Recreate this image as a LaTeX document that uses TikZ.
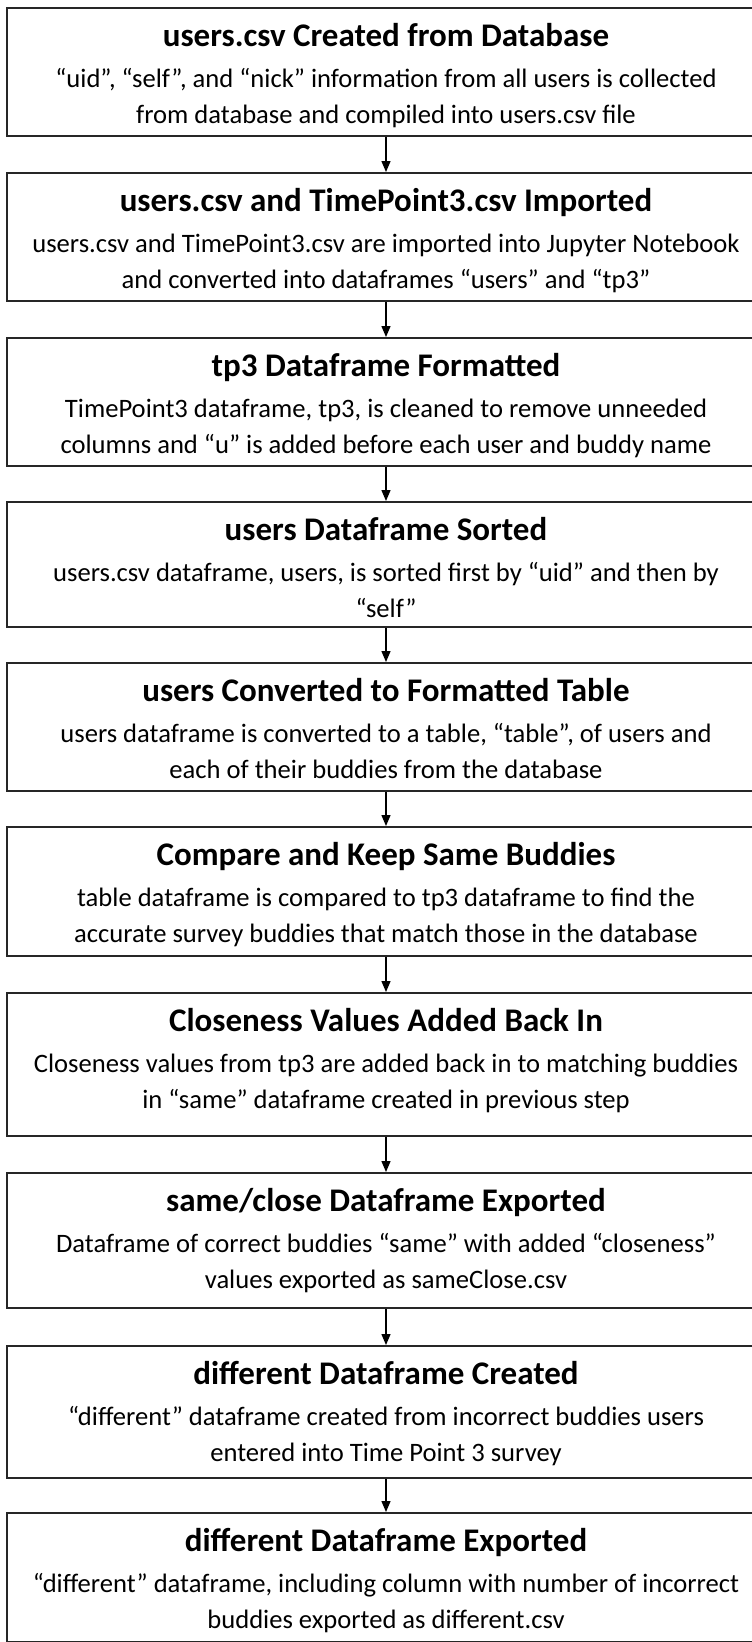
\documentclass[tikz,border=0pt]{standalone}
\usepackage{fontspec}
\setmainfont{Carlito}
\usetikzlibrary{arrows.meta}

\tikzset{
  stepbox/.style={draw=black!85, line width=2pt, minimum width=758pt, inner sep=0pt, anchor=north},
  ttl/.style={font=\fontsize{33}{36}\selectfont\bfseries, inner sep=0pt, anchor=base},
  bdy/.style={font=\fontsize{26.6}{29}\selectfont, align=center, inner sep=0pt, anchor=north},
  flow/.style={line width=1.4pt, -{Triangle[length=11pt, width=9pt]}}
}

% one stage of the pipeline: name, top edge, height, heading, description
\newcommand\stage[5]{%
  \node[stepbox, minimum height=#3pt] (#1) at (386,#2) {};
  \node[ttl] (#1t) at (386,#2+39) {#4};
  \node[bdy] (#1b) at (386,#2+58) {\rule{0pt}{22pt}#5};
}

\begin{document}
\begin{tikzpicture}[x=1pt, y=-1pt]
\useasboundingbox (0,0) rectangle (752,1642);
\clip (0,0) rectangle (752,1642);
\fill[white] (0,0) rectangle (752,1642);

\stage{s1}{7}{128}{users.csv Created from Database}
  {“uid”, “self”, and “nick” information from all users is collected\\[7pt] from database and compiled into users.csv file}
\stage{s2}{172}{128}{users.csv and TimePoint3.csv Imported}
  {users.csv and TimePoint3.csv are imported into Jupyter Notebook\\[7pt] and converted into dataframes “users” and “tp3”}
\stage{s3}{337}{128}{tp3 Dataframe Formatted}
  {TimePoint3 dataframe, tp3, is cleaned to remove unneeded\\[7pt] columns and “u” is added before each user and buddy name}
\stage{s4}{501}{125}{users Dataframe Sorted}
  {users.csv dataframe, users, is sorted first by “uid” and then by\\[7pt] “self”}
\stage{s5}{662}{128}{users Converted to Formatted Table}
  {users dataframe is converted to a table, “table”, of users and\\[7pt] each of their buddies from the database}
\stage{s6}{826}{129}{Compare and Keep Same Buddies}
  {table dataframe is compared to tp3 dataframe to find the\\[7pt] accurate survey buddies that match those in the database}
\stage{s7}{992}{143}{Closeness Values Added Back In}
  {Closeness values from tp3 are added back in to matching buddies\\[7pt] in “same” dataframe created in previous step}
\stage{s8}{1172}{135}{same/close Dataframe Exported}
  {Dataframe of correct buddies “same” with added “closeness”\\[7pt] values exported as sameClose.csv}
\stage{s9}{1345}{132}{different Dataframe Created}
  {“different” dataframe created from incorrect buddies users\\[7pt] entered into Time Point 3 survey}
\stage{s10}{1512}{129}{different Dataframe Exported}
  {“different” dataframe, including column with number of incorrect\\[7pt] buddies exported as different.csv}

\foreach \a/\b in {s1/s2, s2/s3, s3/s4, s4/s5, s5/s6, s6/s7, s7/s8, s8/s9, s9/s10}
  \draw[flow] (\a.south) -- (\b.north);
\end{tikzpicture}
\end{document}
